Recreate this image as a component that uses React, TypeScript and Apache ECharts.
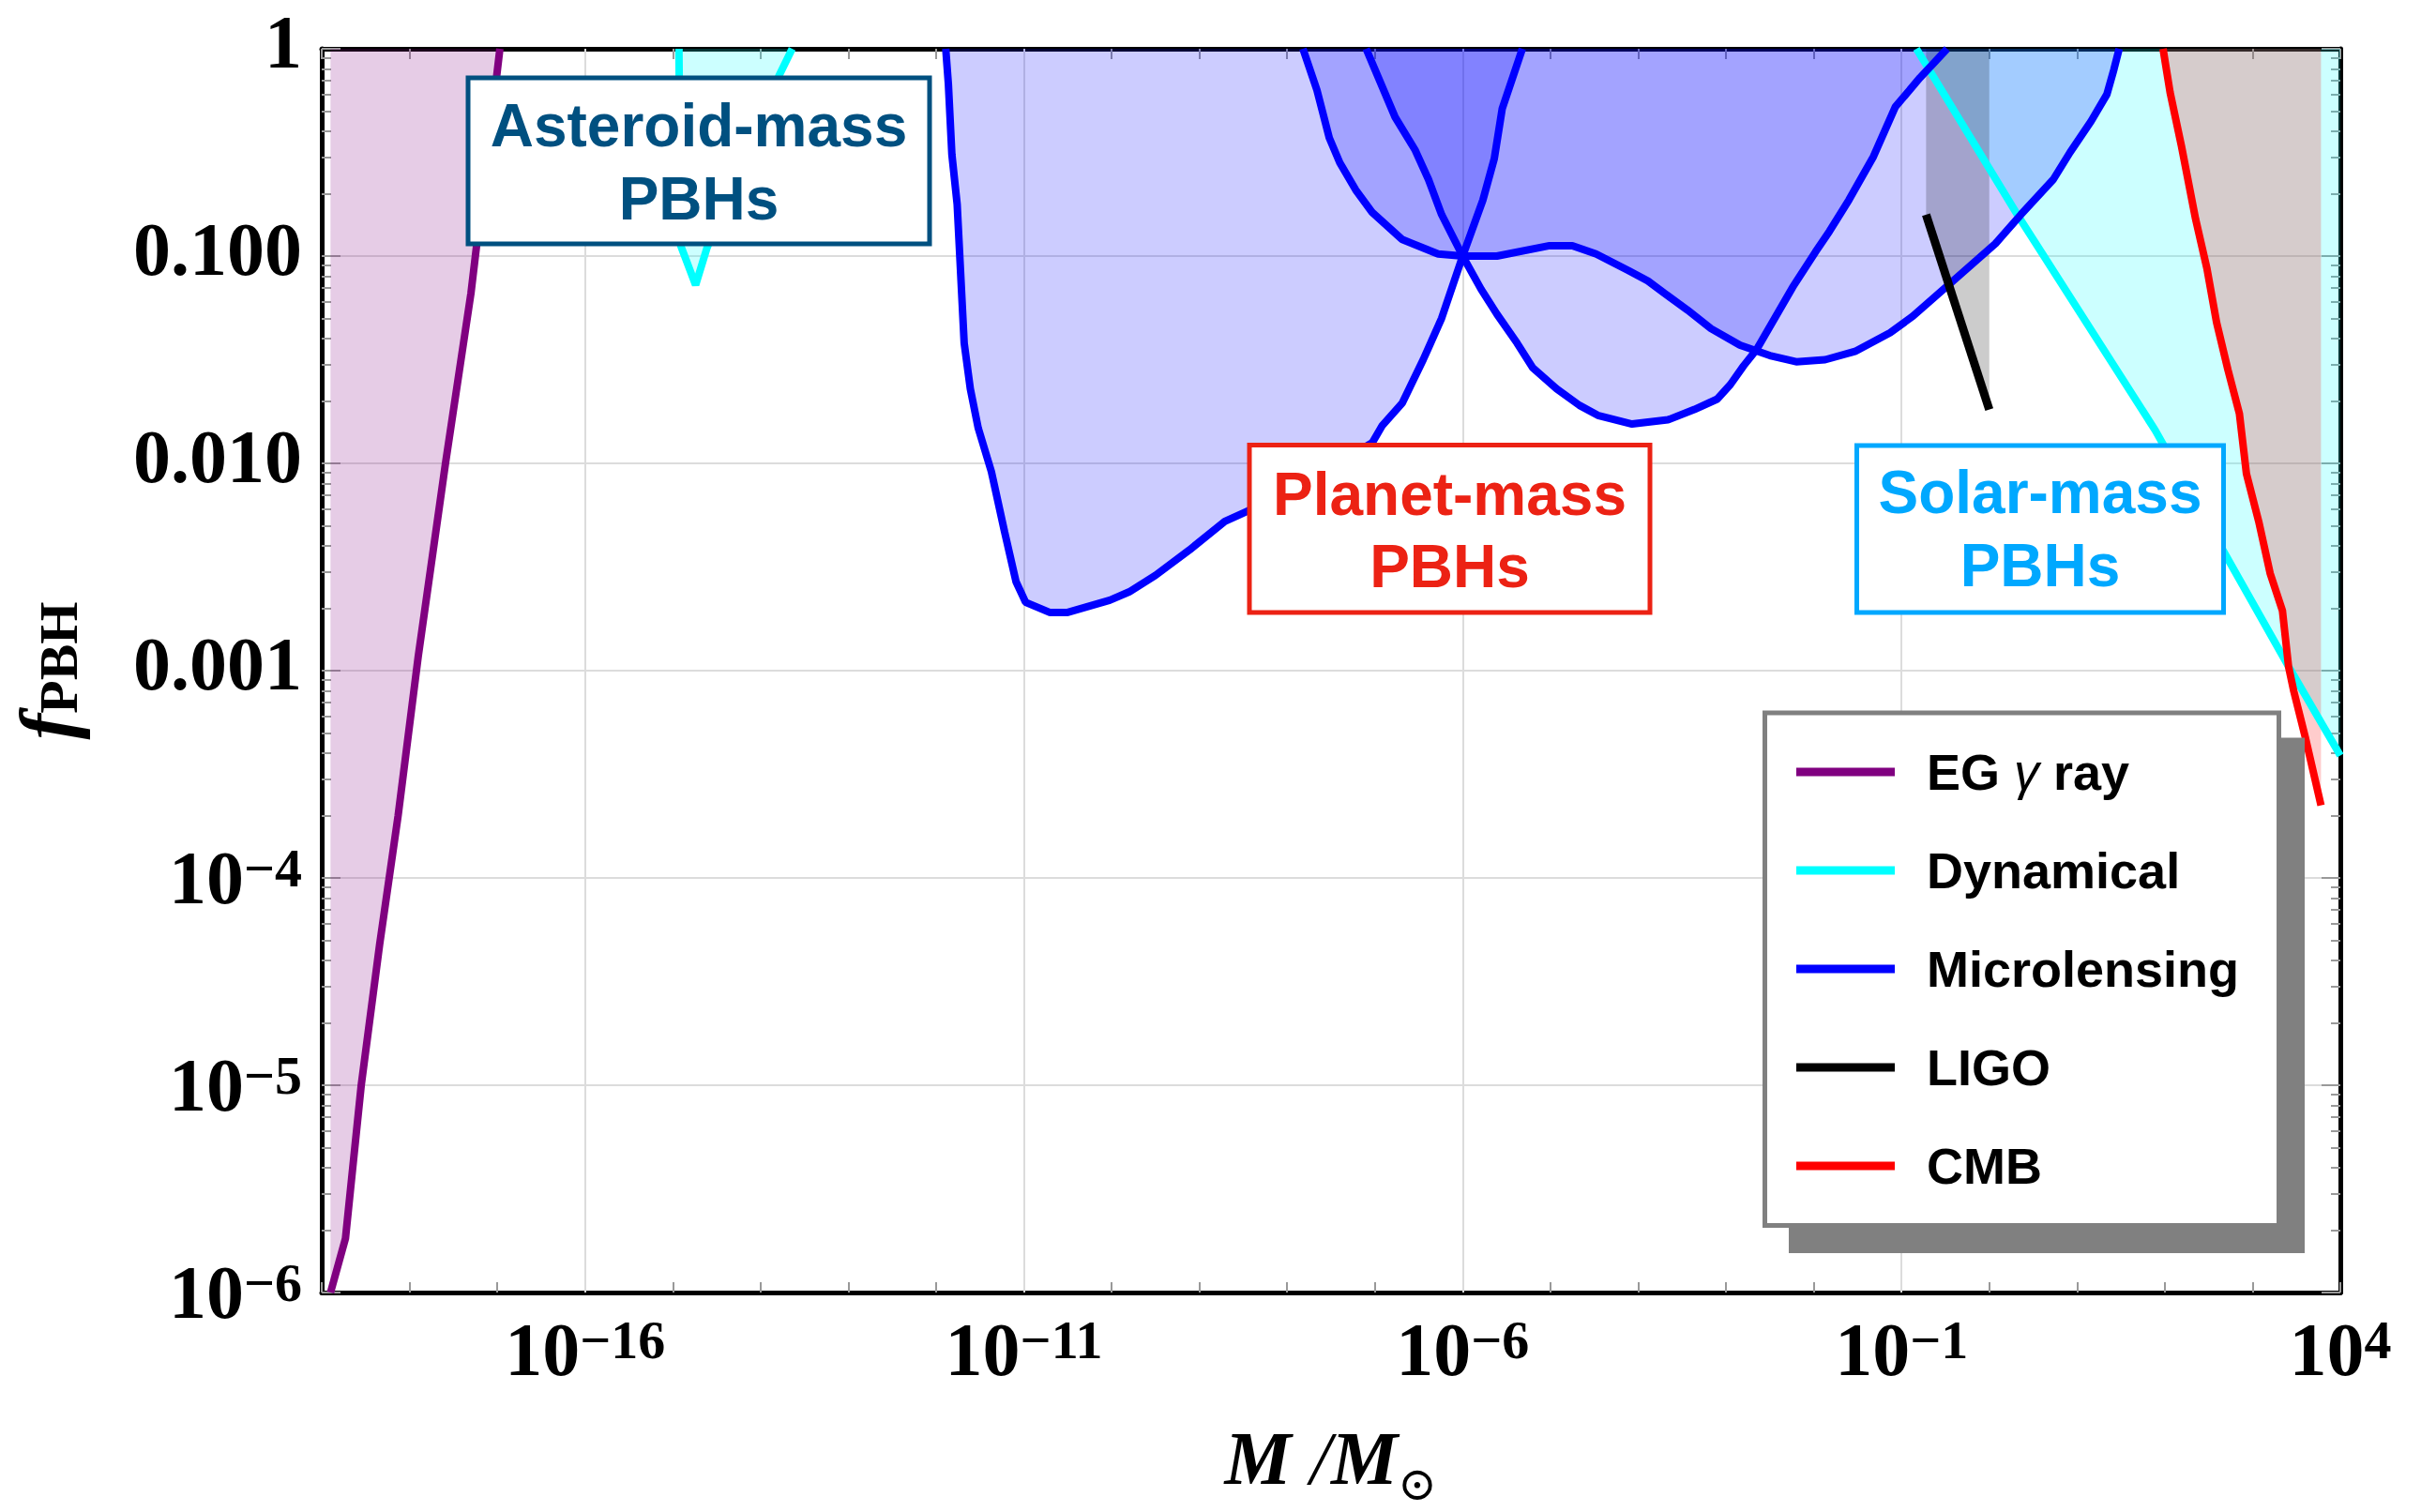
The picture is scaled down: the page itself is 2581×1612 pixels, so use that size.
import React, { useEffect, useRef } from "react";
import * as echarts from "echarts";

// Every point is [log10(M / M_sun), log10(f_PBH)].
const egGamma: number[][] = [
  [-18.9, -6], [-18.73, -5.74], [-18.55, -5.0], [-18.34, -4.32], [-18.13, -3.7],
  [-17.9, -2.93], [-17.59, -2.0], [-17.3, -1.18], [-16.97, 0],
];

const dynamicalLow: number[][] = [
  [-14.93, 0], [-14.92, -0.5], [-14.91, -0.95], [-14.74, -1.14], [-14.61, -0.96],
  [-13.79, -0.13], [-13.64, 0],
];

const dynamicalHigh: number[][] = [
  [-0.83, 0], [0.32, -0.8], [1.89, -1.84], [3.41, -2.98], [4, -3.41],
];

const microA: number[][] = [
  [-11.89, 0], [-11.86, -0.17], [-11.82, -0.51], [-11.76, -0.75], [-11.68, -1.42],
  [-11.61, -1.64], [-11.52, -1.83], [-11.37, -2.04], [-11.22, -2.33], [-11.09, -2.57],
  [-10.98, -2.67], [-10.7, -2.72], [-10.51, -2.72], [-10.02, -2.66], [-9.8, -2.62],
  [-9.5, -2.54], [-9.12, -2.42], [-8.71, -2.28], [-8.45, -2.23], [-7.74, -2.08],
  [-7.03, -1.9], [-6.92, -1.82], [-6.69, -1.71], [-6.45, -1.5], [-6.24, -1.3],
  [-6.0, -1.0], [-5.77, -0.73], [-5.64, -0.53], [-5.55, -0.29], [-5.32, 0],
];

const microB: number[][] = [
  [-7.82, 0], [-7.66, -0.2], [-7.52, -0.43], [-7.4, -0.55], [-7.22, -0.68],
  [-7.03, -0.79], [-6.69, -0.92], [-6.28, -0.99], [-6.0, -1.0], [-5.61, -1.0],
  [-5.01, -0.95], [-4.75, -0.95], [-4.48, -0.99], [-4.11, -1.07], [-3.89, -1.12],
  [-3.7, -1.18], [-3.44, -1.26], [-3.17, -1.35], [-2.84, -1.43], [-2.5, -1.48],
  [-2.2, -1.51], [-1.87, -1.5], [-1.53, -1.46], [-1.13, -1.37], [-0.87, -1.29],
  [-0.44, -1.13], [0.07, -0.94], [0.36, -0.8], [0.73, -0.63], [0.92, -0.5],
  [1.16, -0.35], [1.34, -0.22], [1.42, -0.1], [1.48, 0],
];

const microC: number[][] = [
  [-7.1, 0], [-6.95, -0.15], [-6.77, -0.33], [-6.54, -0.49], [-6.39, -0.63],
  [-6.24, -0.8], [-6.0, -1.0], [-5.79, -1.16], [-5.61, -1.28], [-5.38, -1.42],
  [-5.2, -1.54], [-4.93, -1.64], [-4.67, -1.72], [-4.45, -1.77], [-4.07, -1.81],
  [-3.66, -1.79], [-3.36, -1.74], [-3.1, -1.69], [-2.95, -1.62], [-2.8, -1.53],
  [-2.65, -1.45], [-2.24, -1.15], [-1.98, -0.98], [-1.82, -0.88], [-1.6, -0.73],
  [-1.32, -0.52], [-1.07, -0.28], [-0.79, -0.14], [-0.48, 0],
];

const ligo: number[][] = [[-0.72, -0.8], [0.0, -1.74]];

const cmb: number[][] = [
  [1.98, 0], [2.06, -0.21], [2.19, -0.47], [2.35, -0.82], [2.48, -1.06],
  [2.59, -1.32], [2.72, -1.55], [2.85, -1.76], [2.93, -2.05], [3.07, -2.28],
  [3.2, -2.53], [3.34, -2.71], [3.41, -2.98], [3.47, -3.1], [3.6, -3.32], [3.78, -3.65],
];

const legendNames = ["EG γ ray", "Dynamical", "Microlensing", "LIGO", "CMB"];

// Axis ranges (decades) and tick labels
const X_MIN = -19;
const X_MAX = 4;
const Y_MIN = -6;
const Y_MAX = 0;
const xLabelDecades = [-16, -11, -6, -1, 4];
const xGridDecades = [-16, -11, -6, -1];
const yDecimalLabels = ["1", "0.100", "0.010", "0.001"];
const minorMultipliers = [2, 3, 4, 5, 6, 7, 8, 9];

const SERIF = "Liberation Serif";
const SANS = "Liberation Sans";

const yMinorTicks: number[] = [];
for (let d = Y_MIN; d < Y_MAX; d++) {
  minorMultipliers.forEach((k) => yMinorTicks.push(d + Math.log10(k)));
}

const tickLine = { color: "#999999", width: 2 };
const frameLine = { color: "#000000", width: 5 };

const powerRich = {
  b: { fontSize: 80, lineHeight: 80, fontFamily: SERIF, fontWeight: "bold", color: "#000" },
  sup: { fontSize: 58, lineHeight: 45, fontFamily: SERIF, fontWeight: "bold", color: "#000", verticalAlign: "top" },
  p: { fontSize: 80, lineHeight: 80, fontFamily: SERIF, fontWeight: "bold", color: "#000", padding: [0, 0, 14, 0] },
};

const exponentText = (n: number) => (n < 0 ? "−" + -n : String(n));

function fillSeries(pts: number[][], color: string, name: string) {
  return {
    type: "custom",
    name,
    xAxisIndex: 0,
    yAxisIndex: 0,
    clip: true,
    silent: true,
    z: 2,
    data: [pts[0]],
    renderItem: (_params: any, api: any) => {
      const last = pts[pts.length - 1];
      const poly = [...pts, [last[0], Y_MAX], [pts[0][0], Y_MAX]];
      return {
        type: "polygon",
        shape: { points: poly.map((p) => api.coord(p)) },
        style: { fill: color },
        silent: true,
      };
    },
  };
}

function lineSeries(pts: number[][], color: string, name: string, width = 8) {
  return {
    type: "line",
    name,
    xAxisIndex: 0,
    yAxisIndex: 0,
    data: pts,
    color,
    showSymbol: false,
    symbol: "none",
    silent: true,
    clip: true,
    z: 3,
    lineStyle: { color, width },
  };
}

function labelBox(
  x: number, y: number, w: number, h: number, color: string,
  line1: string, line2: string, y1: number, y2: number
) {
  const cx = x + w / 2;
  const font = { fontSize: 64, fontWeight: "bold", fontFamily: SANS, fill: color, align: "center", verticalAlign: "middle" };
  return [
    { type: "rect", z: 100, shape: { x, y, width: w, height: h }, style: { fill: "#ffffff", stroke: color, lineWidth: 5 } },
    { type: "text", z: 101, x: cx, y: y1, style: { ...font, text: line1 } },
    { type: "text", z: 101, x: cx, y: y2, style: { ...font, text: line2 } },
  ];
}

export default function App() {
  const ref = useRef<HTMLDivElement>(null);

  useEffect(() => {
    if (!ref.current) return;
    const chart = echarts.init(ref.current, null, { renderer: "svg" });

    const baseX = { type: "value", min: X_MIN, max: X_MAX, gridIndex: 0 };
    const baseY = { type: "value", min: Y_MIN, max: Y_MAX, gridIndex: 0 };

    const option: any = {
      animation: false,
      backgroundColor: "#ffffff",
      grid: { left: 340, top: 52, width: 2155, height: 1330 },
      xAxis: [
        {
          ...baseX,
          position: "bottom",
          interval: 1,
          axisLine: { show: true, onZero: false, lineStyle: frameLine },
          axisTick: { show: true, inside: true, length: 11, lineStyle: tickLine },
          axisLabel: {
            show: true,
            margin: 21,
            formatter: (v: number) => {
              const n = Math.round(v);
              return xLabelDecades.includes(n) ? `{b|10}{sup|${exponentText(n)}}` : "";
            },
            rich: powerRich,
          },
          splitLine: { show: false },
          name: "{m|M}{s| /}{m|M}{o|⊙}{z| }",
          nameLocation: "middle",
          nameGap: 137,
          nameTextStyle: {
            rich: {
              m: { fontSize: 80, lineHeight: 80, fontFamily: SERIF, fontStyle: "italic", fontWeight: "bold", color: "#000", verticalAlign: "top" },
              s: { fontSize: 80, lineHeight: 80, fontFamily: SERIF, fontStyle: "italic", color: "#000", verticalAlign: "top" },
              o: { fontSize: 50, lineHeight: 14, fontFamily: "DejaVu Serif", color: "#000", verticalAlign: "bottom" },
              z: { fontSize: 2, lineHeight: 92, color: "#000" },
            },
          },
        },
        {
          ...baseX,
          position: "bottom",
          axisLine: { show: false, onZero: false },
          axisTick: { show: true, inside: true, length: 20, lineStyle: tickLine, customValues: xGridDecades },
          axisLabel: { show: false },
          splitLine: { show: false },
        },
        {
          ...baseX,
          position: "top",
          interval: 1,
          axisLine: { show: true, onZero: false, lineStyle: frameLine },
          axisTick: { show: true, inside: true, length: 11, lineStyle: tickLine },
          axisLabel: { show: false },
          splitLine: { show: false },
        },
        {
          ...baseX,
          position: "top",
          axisLine: { show: false, onZero: false },
          axisTick: { show: true, inside: true, length: 20, lineStyle: tickLine, customValues: xGridDecades },
          axisLabel: { show: false },
          splitLine: { show: false },
        },
      ],
      yAxis: [
        {
          ...baseY,
          position: "left",
          interval: 1,
          axisLine: { show: true, onZero: false, lineStyle: frameLine },
          axisTick: { show: true, inside: true, length: 20, lineStyle: tickLine },
          axisLabel: {
            show: true,
            margin: 21,
            formatter: (v: number) => {
              const n = Math.round(v);
              return n > -4 ? `{p|${yDecimalLabels[-n]}}` : `{b|10}{sup|${exponentText(n)}}`;
            },
            rich: powerRich,
          },
          splitLine: { show: true, lineStyle: { color: "#dcdcdc", width: 2 } },
          name: "{f|f}{s|PBH}",
          nameLocation: "middle",
          nameRotate: 90,
          nameGap: 252,
          nameTextStyle: {
            rich: {
              f: { fontSize: 83, lineHeight: 83, fontFamily: SERIF, fontStyle: "italic", fontWeight: "bold", color: "#000" },
              s: { fontSize: 58, lineHeight: 40, fontFamily: SERIF, fontWeight: "bold", color: "#000", verticalAlign: "bottom" },
            },
          },
        },
        {
          ...baseY,
          position: "left",
          axisLine: { show: false, onZero: false },
          axisTick: { show: true, inside: true, length: 10, lineStyle: tickLine, customValues: yMinorTicks },
          axisLabel: { show: false },
          splitLine: { show: false },
        },
        {
          ...baseY,
          position: "right",
          interval: 1,
          axisLine: { show: true, onZero: false, lineStyle: frameLine },
          axisTick: { show: true, inside: true, length: 20, lineStyle: tickLine },
          axisLabel: { show: false },
          splitLine: { show: false },
        },
        {
          ...baseY,
          position: "right",
          axisLine: { show: false, onZero: false },
          axisTick: { show: true, inside: true, length: 10, lineStyle: tickLine, customValues: yMinorTicks },
          axisLabel: { show: false },
          splitLine: { show: false },
        },
      ],
      legend: {
        data: legendNames.map((name) => ({ name, icon: "rect" })),
        orient: "vertical",
        left: 1915,
        top: 793,
        padding: 0,
        itemWidth: 105,
        itemHeight: 9,
        itemGap: 45,
        selectedMode: false,
        z: 120,
        formatter: (name: string) =>
          name === "EG γ ray" ? "{t|EG }{g|γ}{t| ray}" : `{t|${name}}`,
        textStyle: {
          padding: [0, 0, 0, 29],
          lineHeight: 60,
          rich: {
            t: { fontSize: 54, lineHeight: 60, fontWeight: "bold", fontFamily: SANS, color: "#000" },
            g: { fontSize: 54, lineHeight: 60, fontStyle: "italic", fontFamily: SANS, color: "#000" },
          },
        },
      },
      graphic: {
        elements: [
          { type: "rect", z: 110, shape: { x: 1907, y: 786.5, width: 550, height: 549.5 }, style: { fill: "#808080" } },
          { type: "rect", z: 111, shape: { x: 1881.5, y: 760, width: 548, height: 546.5 }, style: { fill: "#ffffff", stroke: "#808080", lineWidth: 5 } },
          ...labelBox(499, 83, 492, 177, "#005080", "Asteroid-mass", "PBHs", 134, 212),
          ...labelBox(1332, 474.5, 427, 178.5, "#ec2214", "Planet-mass", "PBHs", 527, 604),
          ...labelBox(1979.5, 475, 391, 178, "#00a8ff", "Solar-mass", "PBHs", 525, 603),
        ],
      },
      series: [
        {
          type: "line",
          name: "gridlines",
          xAxisIndex: 0,
          yAxisIndex: 0,
          data: [],
          silent: true,
          markLine: {
            silent: true,
            z: 1,
            symbol: ["none", "none"],
            label: { show: false },
            lineStyle: { color: "#dcdcdc", width: 2, type: "solid" },
            data: xGridDecades.map((v) => ({ xAxis: v })),
          },
        },
        fillSeries(egGamma, "rgba(128,0,128,0.2)", "eg-fill"),
        fillSeries(dynamicalLow, "rgba(0,255,255,0.2)", "dyn-low-fill"),
        fillSeries(dynamicalHigh, "rgba(0,255,255,0.2)", "dyn-high-fill"),
        fillSeries(microA, "rgba(0,0,255,0.2)", "micro-a-fill"),
        fillSeries(microB, "rgba(0,0,255,0.2)", "micro-b-fill"),
        fillSeries(microC, "rgba(0,0,255,0.2)", "micro-c-fill"),
        fillSeries(ligo, "rgba(0,0,0,0.2)", "ligo-fill"),
        fillSeries(cmb, "rgba(255,0,0,0.2)", "cmb-fill"),
        lineSeries(egGamma, "#800080", "EG γ ray"),
        lineSeries(dynamicalLow, "#00ffff", "Dynamical"),
        lineSeries(dynamicalHigh, "#00ffff", "Dynamical"),
        lineSeries(microA, "#0000ff", "Microlensing"),
        lineSeries(microB, "#0000ff", "Microlensing"),
        lineSeries(microC, "#0000ff", "Microlensing"),
        lineSeries(ligo, "#000000", "LIGO", 9),
        lineSeries(cmb, "#ff0000", "CMB"),
      ],
    };

    chart.setOption(option);
    return () => chart.dispose();
  }, []);

  return (
    <div
      ref={ref}
      style={{ position: "fixed", left: 0, top: 0, width: 2581, height: 1612, background: "#fff" }}
    />
  );
}
